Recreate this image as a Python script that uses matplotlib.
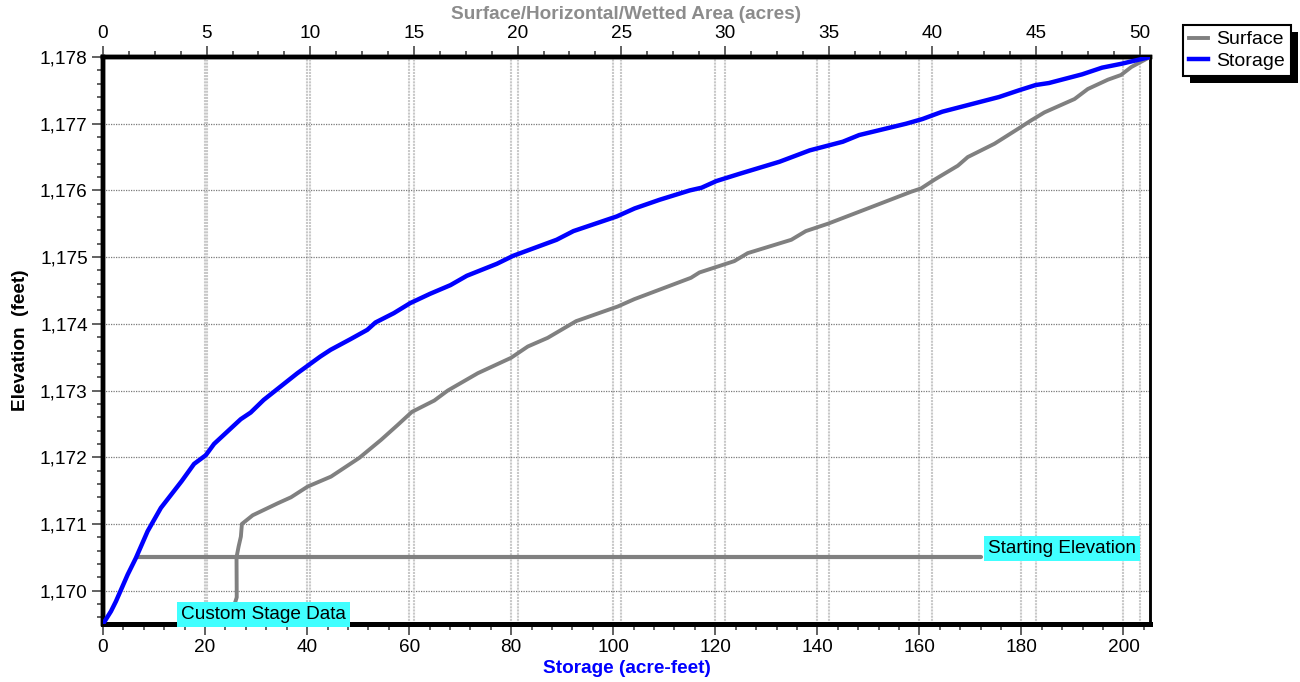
import matplotlib
matplotlib.use("Agg")
import matplotlib.pyplot as plt
from matplotlib.ticker import MultipleLocator, FuncFormatter
from matplotlib.patches import Rectangle

plt.rcParams['font.family'] = ['Liberation Sans', 'DejaVu Sans']

# ---- data ----
storage_af = [0, 1.56, 2.54, 4.83, 6.45, 8.74, 10.0, 11.34, 15.4, 17.85, 20.14, 21.77,
              26.99, 28.94, 31.5, 34.8, 38.1, 42.6, 44.6, 48.5, 51.8, 53.4, 57.0, 60.2,
              64.1, 68.1, 71.3, 77.2, 80.4, 88.9, 92.2, 100.7, 104.2, 109.1, 115.0,
              117.3, 120.2, 124.8, 132.6, 138.5, 145.0, 148.2, 157.4, 160.6, 164.5,
              175.6, 179.5, 182.8, 185.4, 191.9, 195.8, 199.7, 205.2]
storage_elev = [1169.5, 1169.69, 1169.84, 1170.24, 1170.49, 1170.89, 1171.06, 1171.24,
                1171.64, 1171.9, 1172.03, 1172.2, 1172.57, 1172.67, 1172.86, 1173.06,
                1173.26, 1173.51, 1173.61, 1173.77, 1173.91, 1174.02, 1174.16, 1174.31,
                1174.45, 1174.58, 1174.72, 1174.9, 1175.02, 1175.26, 1175.39, 1175.61,
                1175.73, 1175.86, 1176.0, 1176.04, 1176.14, 1176.25, 1176.43, 1176.6,
                1176.73, 1176.83, 1177.0, 1177.07, 1177.18, 1177.4, 1177.5, 1177.58,
                1177.61, 1177.74, 1177.84, 1177.9, 1178.0]

surface_ac = [6.25, 6.3, 6.45, 6.44, 6.54, 6.65, 6.7, 7.22, 8.43, 9.07, 9.87, 11.0,
              12.36, 13.41, 14.2, 14.9, 15.98, 16.63, 18.08, 19.68, 20.49, 21.45, 22.82,
              24.83, 25.63, 28.36, 28.77, 30.45, 31.1, 33.2, 33.9, 34.96, 36.89, 38.98,
              39.46, 40.1, 40.42, 41.23, 41.71, 43.0, 44.12, 44.77, 45.41, 46.86, 47.5,
              48.47, 49.1, 49.6, 50.5]
surface_elev = [1169.5, 1169.75, 1169.9, 1170.5, 1170.66, 1170.81, 1171.0, 1171.13,
                1171.31, 1171.4, 1171.56, 1171.71, 1171.99, 1172.26, 1172.48, 1172.68,
                1172.85, 1173.0, 1173.26, 1173.49, 1173.66, 1173.79, 1174.04, 1174.26,
                1174.37, 1174.69, 1174.77, 1174.94, 1175.06, 1175.26, 1175.39, 1175.5,
                1175.73, 1175.98, 1176.03, 1176.16, 1176.22, 1176.37, 1176.5, 1176.7,
                1176.92, 1177.05, 1177.17, 1177.37, 1177.52, 1177.66, 1177.73, 1177.85,
                1178.0]

start_elev = 1170.5
start_line_af = [6.6, 172.1]

storage_ticks = [0, 20, 40, 60, 80, 100, 120, 140, 160, 180, 200]
surface_ticks = [0, 5, 10, 15, 20, 25, 30, 35, 40, 45, 50]
elev_ticks = [1170, 1171, 1172, 1173, 1174, 1175, 1176, 1177, 1178]

FS = 13.7

# ---- figure ----
W, H = 1300, 682
fig = plt.figure(figsize=(13, 6.82), dpi=100)
L, R, T, B = 103, 1150, 57, 624
ax = fig.add_axes([L / W, 1 - B / H, (R - L) / W, (B - T) / H])
ax2 = ax.twiny()
ax2.patch.set_visible(False)

ax.set_xlim(0, 205.2)
ax.set_ylim(1169.5, 1178)
ax2.set_xlim(0, 50.5)

ax.set_xticks(storage_ticks)
ax.set_yticks(elev_ticks)
ax2.set_xticks(surface_ticks)
ax.xaxis.set_minor_locator(MultipleLocator(4))
ax.yaxis.set_minor_locator(MultipleLocator(0.2))
ax2.xaxis.set_minor_locator(MultipleLocator(1.25))
ax.yaxis.set_major_formatter(FuncFormatter(lambda v, p: f"{v:,.0f}"))

grid_light = '#c8c8c8'
ax.grid(True, axis='x', which='major', color=grid_light, lw=1.5, ls=(0, (1, 0.5)))
ax.grid(True, axis='y', which='major', color='#7a7a7a', lw=0.9, ls=(0, (1, 1)))
ax2.grid(True, axis='x', which='major', color=grid_light, lw=1.5, ls=(0, (1, 0.5)))
ax.set_axisbelow(True)
ax2.set_axisbelow(True)

tick_col = '#555555'
for a in (ax, ax2):
    a.tick_params(which='major', direction='out', length=8, width=1.3, color=tick_col,
                  labelsize=FS, pad=3, labelcolor='black')
    a.tick_params(which='minor', direction='out', length=4, width=1.3, color=tick_col)
    for s, lw in (('top', 3.2), ('left', 3.2), ('bottom', 3.6), ('right', 1.8)):
        a.spines[s].set_linewidth(lw)
        a.spines[s].set_color('black')

# ---- lines ----
surf_line, = ax2.plot(surface_ac, surface_elev, color='#808080', lw=2.8,
                      solid_joinstyle='round', zorder=3, label='Surface')
stor_line, = ax2.plot(storage_af, storage_elev, color='#0000ff', lw=3.2,
                      transform=ax.transData, solid_joinstyle='round', zorder=4,
                      label='Storage')
ax2.plot(start_line_af, [start_elev, start_elev], color='#808080', lw=3.0,
         solid_capstyle='round', transform=ax.transData, zorder=3)
ax2.set_xlim(0, 50.5)

cyan = '#40ffff'
ax2.text(173.4, 1170.63, 'Starting Elevation', transform=ax.transData, fontsize=FS,
         va='center', ha='left', zorder=6,
         bbox=dict(boxstyle='square,pad=0.22', fc=cyan, ec='none'))
ax2.text(15.3, 1169.64, 'Custom Stage Data', transform=ax.transData, fontsize=FS,
         va='center', ha='left', zorder=6,
         bbox=dict(boxstyle='square,pad=0.22', fc=cyan, ec='none'))

# ---- labels ----
ax.set_xlabel('Storage (acre-feet)', color='#0000ff', fontsize=FS, fontweight='bold',
              labelpad=3)
ax2.set_xlabel('Surface/Horizontal/Wetted Area (acres)', color='#8c8c8c', fontsize=FS,
               fontweight='bold', labelpad=4)
ax.set_ylabel('Elevation  (feet)', fontsize=FS, fontweight='bold', labelpad=8)

# ---- legend ----
leg = fig.legend(handles=[surf_line, stor_line], labels=['Surface', 'Storage'],
                 loc='upper left', bbox_to_anchor=(1183 / W, 1 - 25 / H),
                 bbox_transform=fig.transFigure, fontsize=14, frameon=True,
                 fancybox=False, edgecolor='black', framealpha=1, handlelength=1.0,
                 handletextpad=0.4, borderpad=0.3, labelspacing=0.2,
                 borderaxespad=0)
leg.get_frame().set_linewidth(1.5)
leg.set_zorder(10)
fig.canvas.draw()
bb = leg.get_window_extent()
shadow = Rectangle((bb.x0 + 7, bb.y0 - 7), bb.width, bb.height, transform=None,
                   facecolor='black', edgecolor='none', zorder=9)
fig.add_artist(shadow)

fig.savefig('out.png', dpi=100)
